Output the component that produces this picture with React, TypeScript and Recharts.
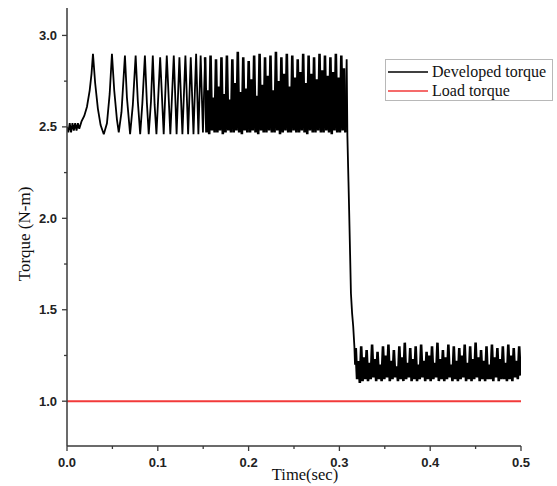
import { Legend, Line, LineChart, XAxis, YAxis } from "recharts";

// start-up transient, read peak by peak (time in s, torque in N-m)
const startTimes = [
  0, 0.0015, 0.003, 0.0045, 0.006, 0.0075, 0.009, 0.0105, 0.012, 0.0135,
  0.016, 0.019, 0.022, 0.025, 0.027, 0.0286, 0.031, 0.034, 0.037, 0.0405,
  0.044, 0.047, 0.0495, 0.052, 0.055, 0.057, 0.06, 0.0638, 0.066, 0.0695,
  0.0725, 0.0756, 0.078, 0.0806, 0.083, 0.0858, 0.088, 0.09, 0.0925, 0.0945,
  0.0965, 0.0985, 0.1026, 0.1065, 0.1099, 0.1138, 0.1176, 0.1207, 0.1238, 0.1271,
  0.1304, 0.1334, 0.1363, 0.1393, 0.1422, 0.1447, 0.1472, 0.1497,
];
const startTorque = [
  2.5, 2.47, 2.52, 2.47, 2.52, 2.48, 2.52, 2.48, 2.52, 2.49,
  2.53, 2.56, 2.61, 2.7, 2.79, 2.9, 2.74, 2.6, 2.51, 2.46,
  2.52, 2.68, 2.9, 2.7, 2.54, 2.47, 2.58, 2.89, 2.66, 2.46,
  2.62, 2.89, 2.64, 2.46, 2.63, 2.89, 2.63, 2.46, 2.64, 2.89,
  2.62, 2.46, 2.88, 2.46, 2.89, 2.46, 2.89, 2.46, 2.88, 2.46,
  2.89, 2.46, 2.88, 2.46, 2.9, 2.46, 2.89, 2.47,
];

// steady ripple before the load step, sampled every 1.5 ms
const bandStart = 0.1521;
const bandStep = 0.0015;
const bandTorque = [
  2.88, 2.47, 2.7, 2.46, 2.89, 2.48, 2.66, 2.47,
  2.87, 2.47, 2.72, 2.48, 2.88, 2.46, 2.68, 2.47,
  2.89, 2.48, 2.65, 2.47, 2.87, 2.47, 2.74, 2.48,
  2.91, 2.47, 2.69, 2.46, 2.88, 2.48, 2.71, 2.47,
  2.86, 2.47, 2.76, 2.48, 2.89, 2.47, 2.67, 2.46,
  2.9, 2.48, 2.73, 2.47, 2.88, 2.47, 2.78, 2.48,
  2.89, 2.47, 2.7, 2.47, 2.91, 2.48, 2.75, 2.46,
  2.88, 2.47, 2.79, 2.48, 2.9, 2.47, 2.72, 2.47,
  2.89, 2.48, 2.77, 2.47, 2.87, 2.47, 2.8, 2.48,
  2.9, 2.47, 2.74, 2.46, 2.89, 2.48, 2.79, 2.47,
  2.88, 2.47, 2.76, 2.48, 2.9, 2.47, 2.81, 2.47,
  2.89, 2.48, 2.78, 2.47, 2.88, 2.46, 2.8, 2.48,
  2.9, 2.47, 2.77, 2.47, 2.89, 2.48, 2.82, 2.47,
];

// the drop when the load changes
const dropTimes = [0.308, 0.3088, 0.31, 0.3107, 0.3118, 0.3127, 0.314, 0.3152, 0.3165, 0.3172];
const dropTorque = [2.87, 2.45, 2.2, 2.05, 1.8, 1.59, 1.48, 1.41, 1.3, 1.2];

// ripple after the step
const loadedStart = 0.318;
const loadedStep = 0.0015;
const loadedTorque = [
  1.29, 1.12, 1.22, 1.1, 1.3, 1.11, 1.24, 1.12,
  1.28, 1.11, 1.21, 1.12, 1.31, 1.13, 1.23, 1.11,
  1.27, 1.12, 1.2, 1.11, 1.3, 1.12, 1.25, 1.13,
  1.31, 1.11, 1.22, 1.12, 1.28, 1.13, 1.19, 1.11,
  1.3, 1.12, 1.24, 1.11, 1.32, 1.12, 1.21, 1.13,
  1.29, 1.11, 1.23, 1.12, 1.3, 1.11, 1.2, 1.12,
  1.31, 1.13, 1.22, 1.11, 1.27, 1.12, 1.25, 1.11,
  1.3, 1.12, 1.21, 1.13, 1.32, 1.11, 1.23, 1.12,
  1.28, 1.11, 1.24, 1.12, 1.31, 1.13, 1.2, 1.11,
  1.3, 1.12, 1.22, 1.11, 1.29, 1.12, 1.25, 1.13,
  1.31, 1.11, 1.21, 1.12, 1.3, 1.11, 1.23, 1.12,
  1.32, 1.13, 1.24, 1.11, 1.28, 1.12, 1.22, 1.11,
  1.3, 1.12, 1.2, 1.12, 1.31, 1.11, 1.24, 1.13,
  1.29, 1.11, 1.23, 1.12, 1.3, 1.12, 1.21, 1.11,
  1.31, 1.12, 1.25, 1.11, 1.29, 1.13, 1.22, 1.12,
  1.3, 1.14,
];

const loadTimes = [0, 0.5];
const loadTorque = [1, 1];

const xTicks = [0, 0.05, 0.1, 0.15, 0.2, 0.25, 0.3, 0.35, 0.4, 0.45, 0.5];
const yTicks = [1, 1.25, 1.5, 1.75, 2, 2.25, 2.5, 2.75, 3];

const SERIES = [
  { name: "Developed torque", color: "#000000" },
  { name: "Load torque", color: "#f23a3a" },
];

const transient = startTimes.map((t, i) => ({ t, torque: startTorque[i] }));
const band = bandTorque.map((v, i) => ({ t: bandStart + i * bandStep, torque: v }));
const loaded = loadedTorque.map((v, i) => ({ t: loadedStart + i * loadedStep, torque: v }));
// the ripple pieces are drawn heavier so they fill in like the dense trace
const pieces = [
  { key: "transient", data: [...transient, band[0]], width: 1.8 },
  { key: "band", data: band, width: 2.6 },
  {
    key: "drop",
    data: [band[band.length - 1], ...dropTimes.map((t, i) => ({ t, torque: dropTorque[i] })), loaded[0]],
    width: 1.8,
  },
  { key: "loaded", data: loaded, width: 2.6 },
];
const load = loadTimes.map((t, i) => ({ t, torque: loadTorque[i] }));

const AXIS = "#3a3a3a";
const tickFont = { fontFamily: "'Liberation Sans', Arial, sans-serif", fontWeight: 700, fontSize: 13, fill: "#222" };
const serif = "'Liberation Serif', 'Times New Roman', serif";

const isMajor = (v: number, per: number) => Math.abs(v * per - Math.round(v * per)) < 1e-6;

function XTick({ x, y, payload }: any) {
  const major = isMajor(payload.value, 10);
  return (
    <g>
      <line x1={x} x2={x} y1={y} y2={y + (major ? 5 : 3)} stroke={AXIS} strokeWidth={1.3} />
      {major && (
        <text x={x} y={y + 21} textAnchor="middle" {...tickFont}>
          {payload.value.toFixed(1)}
        </text>
      )}
    </g>
  );
}

function YTick({ x, y, payload }: any) {
  const major = isMajor(payload.value, 2);
  return (
    <g>
      <line x1={x} x2={x - (major ? 5 : 3)} y1={y} y2={y} stroke={AXIS} strokeWidth={1.3} />
      {major && (
        <text x={x - 10} y={y + 4.5} textAnchor="end" {...tickFont}>
          {payload.value.toFixed(1)}
        </text>
      )}
    </g>
  );
}

function LegendBox() {
  return (
    <div
      style={{
        border: "1px solid #b8b8b8",
        background: "#fff",
        height: 42,
        boxSizing: "border-box",
        paddingTop: 2,
        fontFamily: serif,
        fontSize: 16,
        color: "#111",
      }}
    >
      {SERIES.map((s) => (
        <div key={s.name} style={{ display: "flex", alignItems: "center", height: 19 }}>
          <svg width={44} height={4} style={{ marginLeft: 2 }}>
            <line x1={0} x2={40} y1={2} y2={2} stroke={s.color} strokeWidth={1.6} />
          </svg>
          <span style={{ lineHeight: "19px" }}>{s.name}</span>
        </div>
      ))}
    </div>
  );
}

export default function App() {
  return (
    <div style={{ position: "absolute", left: 0, top: 0, background: "#fff" }}>
      <LineChart width={557} height={486} margin={{ top: 8, right: 36, bottom: 0, left: 0 }}>
        <XAxis
          dataKey="t"
          type="number"
          domain={[0, 0.5]}
          ticks={xTicks}
          height={40}
          stroke={AXIS}
          strokeWidth={1.5}
          tickSize={0}
          tickMargin={0}
          tickLine={false}
          tick={<XTick />}
          interval={0}
          allowDataOverflow
        />
        <YAxis
          type="number"
          domain={[0.755, 3.15]}
          ticks={yTicks}
          width={67}
          stroke={AXIS}
          strokeWidth={1.5}
          tickSize={0}
          tickMargin={0}
          tickLine={false}
          tick={<YTick />}
          interval={0}
          allowDataOverflow
        />
        <Legend
          layout="horizontal"
          verticalAlign="middle"
          align="center"
          content={() => <LegendBox />}
          wrapperStyle={{ left: 385, top: 59, width: 168 }}
        />
        <Line
          data={load}
          dataKey="torque"
          name={SERIES[1].name}
          stroke={SERIES[1].color}
          strokeWidth={2}
          dot={false}
          isAnimationActive={false}
        />
        {pieces.map((p) => (
          <Line
            key={p.key}
            data={p.data}
            dataKey="torque"
            name={SERIES[0].name}
            stroke={SERIES[0].color}
            strokeWidth={p.width}
            strokeLinejoin="miter"
            strokeMiterlimit={3}
            dot={false}
            isAnimationActive={false}
          />
        ))}
        <text x={305} y={480} textAnchor="middle" fontFamily={serif} fontSize={16.5} fill="#111">
          Time(sec)
        </text>
        <text
          x={24}
          y={234}
          textAnchor="middle"
          dominantBaseline="central"
          fontFamily={serif}
          fontSize={17}
          fill="#111"
          transform="rotate(-90 24 234)"
        >
          Torque (N-m)
        </text>
      </LineChart>
    </div>
  );
}
